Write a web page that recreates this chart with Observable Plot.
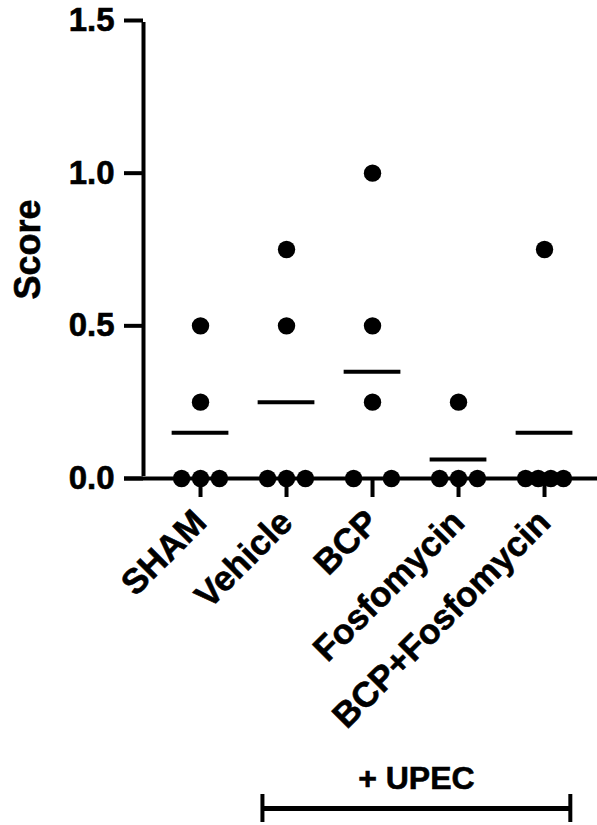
<!DOCTYPE html>
<html>
<head>
<meta charset="utf-8">
<script src="https://cdn.jsdelivr.net/npm/d3@7"></script>
<script src="https://cdn.jsdelivr.net/npm/@observablehq/plot@0.6"></script>
<style>
  html, body { margin: 0; padding: 0; background: #fff; }
  #chart svg { display: block; }
  #chart svg text { stroke: #000; stroke-width: 0.6px; }
</style>
</head>
<body>
<div id="chart"></div>
<script>
// ---- Data ----
const categories = ["SHAM", "Vehicle", "BCP", "Fosfomycin", "BCP+Fosfomycin"];
const shamScores = [0, 0, 0, 0.25, 0.5];
const vehicleScores = [0, 0, 0, 0.5, 0.75];
const bcpScores = [0, 0, 0.25, 0.5, 1.0];
const fosfomycinScores = [0, 0, 0, 0.25];
const bcpFosfomycinScores = [0, 0, 0, 0, 0.75];
const yTicks = [0, 0.5, 1.0, 1.5];
const bracketLabel = "+ UPEC";
const bracketFrom = "Vehicle";
const bracketTo = "BCP+Fosfomycin";

const groups = [shamScores, vehicleScores, bcpScores, fosfomycinScores, bcpFosfomycinScores];

// Spread tied values symmetrically (scatter-dot-plot style)
const spread = 0.44;
const points = [];
groups.forEach((vals, i) => {
  const counts = d3.rollup(vals, v => v.length, v => v);
  const seen = new Map();
  vals.forEach(v => {
    const n = counts.get(v);
    const k = seen.get(v) || 0;
    seen.set(v, k + 1);
    const step = n > 1 ? spread / (n - 1) : 0;
    points.push({i, cat: categories[i], value: v, off: (k - (n - 1) / 2) * step});
  });
});
const means = groups.map((vals, i) => ({i, mean: d3.mean(vals)}));

const b0 = categories.indexOf(bracketFrom) - 0.28;
const b1 = categories.indexOf(bracketTo) + 0.30;

const xDomain = [-0.663, 4.616];
const font = "'Liberation Sans', Arial, Helvetica, sans-serif";

const chart = Plot.plot({
  width: 597,
  height: 825,
  marginLeft: 143,
  marginRight: 0,
  marginTop: 20,
  marginBottom: 347,
  style: {fontFamily: font, color: "black", background: "white", overflow: "visible"},
  x: {type: "linear", domain: xDomain},
  y: {domain: [0, 1.5]},
  marks: [
    // axis lines
    Plot.ruleY([0], {strokeWidth: 4, insetLeft: -19}),
    Plot.ruleX([xDomain[0]], {y1: 0, y2: 1.5, strokeWidth: 4, insetTop: -2, insetBottom: -2}),
    Plot.axisY({
      ticks: yTicks, tickFormat: d3.format(".1f"), tickSize: 19, strokeWidth: 4,
      tickPadding: 10, fontSize: 33, fontWeight: "bold", label: null
    }),
    Plot.text(["Score"], {frameAnchor: "left", textAnchor: "middle", dx: -115, rotate: -90, fontSize: 36, fontWeight: "bold"}),
    Plot.axisX({
      ticks: d3.range(categories.length), tickFormat: i => categories[i],
      tickRotate: -45, tickSize: 19, strokeWidth: 4, tickPadding: 19,
      fontSize: 35, fontWeight: "bold", label: null
    }),
    // data
    Plot.ruleY(means, {x1: d => d.i - 0.33, x2: d => d.i + 0.33, y: "mean", strokeWidth: 4}),
    Plot.dot(points, {x: d => d.i + d.off, y: "value", r: 8.7, fill: "black", stroke: "none"}),
    // bracket
    Plot.ruleY([0], {x1: b0, x2: b1, dy: 330, strokeWidth: 5}),
    Plot.ruleX([b0, b1], {y1: 0, y2: 0, insetTop: -14, insetBottom: -14, dy: 330, strokeWidth: 4}),
    Plot.text([bracketLabel], {x: (b0 + b1) / 2, y: 0, dy: 300, fontSize: 32, fontWeight: "bold"})
  ]
});
document.getElementById("chart").appendChild(chart);
</script>
</body>
</html>
